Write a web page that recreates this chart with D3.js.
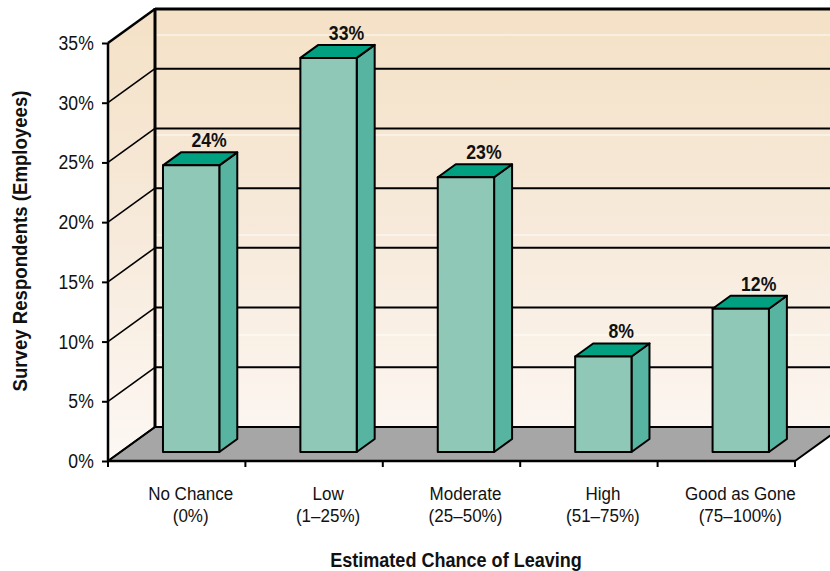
<!DOCTYPE html>
<html>
<head>
<meta charset="utf-8">
<script src="https://cdn.jsdelivr.net/npm/d3@7"></script>
<style>
  html, body { margin: 0; padding: 0; background: #ffffff; }
  svg { display: block; }
  text { font-family: "Liberation Sans", Arial, Helvetica, sans-serif; fill: #111; }
</style>
</head>
<body>
<svg id="chart" width="830" height="571"></svg>
<script>
// Survey: how likely employees think they are to leave
const categories = ["No Chance", "Low", "Moderate", "High", "Good as Gone"];
const ranges = ["(0%)", "(1–25%)", "(25–50%)", "(51–75%)", "(75–100%)"];
const values = [24, 33, 23, 8, 12];
const yTicks = [0, 5, 10, 15, 20, 25, 30, 35];

const W = 830, H = 571;
const svg = d3.select("#chart");

// front plane of the plot and the depth offset of the back wall
const x0 = 108, x1 = 795, yBase = 461, yTop = 43;
const depth = { dx: 47, dy: -34 };
const zBarFront = 9 / 34, zBarBack = 22 / 34;

const x = d3.scaleBand().domain(categories).range([x0, x1]).paddingInner(0).paddingOuter(0);
const y = d3.scaleLinear().domain([0, 35]).range([yBase, yTop]);

// project a front-plane point back to depth z (0 = front, 1 = back wall)
const P = (px, py, z) => [px + z * depth.dx, py + z * depth.dy];
const poly = pts => "M" + pts.map(p => p.join(",")).join("L") + "Z";

// condensed-looking text: a narrowed, slightly tall glyph shape
function label(px, py, str, opts = {}) {
  const sx = opts.sx || 0.93, sy = opts.sy || 1.0, rot = opts.rotate || 0;
  const g = svg.append("g")
    .attr("transform", `translate(${px},${py}) rotate(${rot}) scale(${sx},${sy})`);
  g.append("text").attr("x", 0).attr("y", 0)
    .attr("text-anchor", opts.anchor || "middle")
    .attr("font-size", opts.size || 18)
    .attr("font-weight", opts.bold ? "bold" : "normal")
    .text(str);
  return g;
}

const defs = svg.append("defs");
const grad = defs.append("linearGradient").attr("id", "wallGrad")
  .attr("gradientUnits", "userSpaceOnUse").attr("x1", 0).attr("y1", 8).attr("x2", 0).attr("y2", 461);
grad.append("stop").attr("offset", 0).attr("stop-color", "#f4e1c6");
grad.append("stop").attr("offset", 0.5).attr("stop-color", "#f7eadb");
grad.append("stop").attr("offset", 1).attr("stop-color", "#fdf8f4");

const backX0 = P(x0, 0, 1)[0];
const backTop = P(0, y(35), 1)[1];
const backBot = P(0, y(0), 1)[1];

// back wall
svg.append("rect").attr("x", backX0).attr("y", backTop)
  .attr("width", W + 60 - backX0).attr("height", backBot - backTop)
  .attr("fill", "url(#wallGrad)");

// faint light seams on the back wall
[35, 135, 235, 335].forEach(sy => {
  svg.append("line").attr("x1", backX0).attr("x2", W + 60).attr("y1", sy).attr("y2", sy)
    .attr("stroke", "#ffffff").attr("stroke-width", 1.2).attr("opacity", 0.9);
});

// left side wall
svg.append("path")
  .attr("d", poly([[x0, y(0)], [x0, y(35)], P(x0, y(35), 1), P(x0, y(0), 1)]))
  .attr("fill", "url(#wallGrad)");

// floor
svg.append("path")
  .attr("d", poly([[x0, yBase], [x1, yBase], P(x1, yBase, 1), P(x0, yBase, 1)]))
  .attr("fill", "#a6a6a6").attr("stroke", "#000").attr("stroke-width", 2).attr("stroke-linejoin", "round");

// gridlines on back wall and side wall
yTicks.forEach(t => {
  const yb = y(t) + depth.dy;
  svg.append("line").attr("x1", backX0).attr("x2", W + 60).attr("y1", yb).attr("y2", yb)
    .attr("stroke", "#000").attr("stroke-width", t === 35 ? 3 : 2);
  const a = [x0, y(t)], b = P(x0, y(t), 1);
  svg.append("line").attr("x1", a[0]).attr("y1", a[1]).attr("x2", b[0]).attr("y2", b[1])
    .attr("stroke", "#000").attr("stroke-width", t === 35 ? 2.5 : 1.6);
});

// back wall left edge
svg.append("line").attr("x1", backX0).attr("x2", backX0).attr("y1", backTop - 1).attr("y2", backBot)
  .attr("stroke", "#000").attr("stroke-width", 3);

// front vertical axis with ticks
svg.append("line").attr("x1", x0).attr("x2", x0).attr("y1", y(35)).attr("y2", yBase + 1)
  .attr("stroke", "#000").attr("stroke-width", 2.5);
const yAxis = d3.axisLeft(y).tickValues(yTicks).tickFormat(d => d + "%").tickSize(6).tickPadding(9);
const gy = svg.append("g").attr("transform", `translate(${x0},0)`).call(yAxis);
gy.select(".domain").remove();
gy.selectAll(".tick line").attr("stroke", "#000").attr("stroke-width", 2);
gy.selectAll(".tick text").attr("font-size", 18.5).attr("fill", "#111")
  .attr("transform", "scale(0.95,1.1)")
  .style("font-family", '"Liberation Sans", Arial, sans-serif');

// category ticks under the front floor edge
const bounds = categories.map(c => x(c)).concat([x1]);
bounds.forEach(bx => {
  svg.append("line").attr("x1", bx).attr("x2", bx).attr("y1", yBase).attr("y2", yBase + 6)
    .attr("stroke", "#000").attr("stroke-width", 2);
});
svg.append("line").attr("x1", x0).attr("x2", x1).attr("y1", yBase).attr("y2", yBase)
  .attr("stroke", "#000").attr("stroke-width", 2.5);

// bars
const barW = x.bandwidth() * 0.41;
const bars = svg.append("g");
categories.forEach((c, i) => {
  const v = values[i];
  const bl = x(c) + (x.bandwidth() - barW) / 2 + 2;
  const br = bl + barW;
  const top = y(v);
  const fbl = P(bl, yBase, zBarFront), fbr = P(br, yBase, zBarFront);
  const ftl = P(bl, top, zBarFront), ftr = P(br, top, zBarFront);
  const bbr = P(br, yBase, zBarBack), btl = P(bl, top, zBarBack), btr = P(br, top, zBarBack);
  const g = bars.append("g").attr("stroke", "#000").attr("stroke-width", 2).attr("stroke-linejoin", "round");
  g.append("path").attr("d", poly([fbr, ftr, btr, bbr])).attr("fill", "#56b4a0");
  g.append("path").attr("d", poly([ftl, ftr, btr, btl])).attr("fill", "#00a080");
  g.append("path").attr("d", poly([fbl, ftl, ftr, fbr])).attr("fill", "#90c8b8");

  label((btl[0] + btr[0]) / 2, btl[1] - 5, v + "%", { bold: true, size: 19, sx: 0.93, sy: 1.08 });

  const cx = x(c) + x.bandwidth() / 2 + 14;
  label(cx, 500, c, { size: 18.5, sx: 0.92, sy: 1.0 });
  label(cx, 522, ranges[i], { size: 18.5, sx: 0.92, sy: 1.0 });
});

// axis titles
label(456, 567, "Estimated Chance of Leaving", { bold: true, size: 19, sx: 0.95, sy: 1.05 });
label(27, 241, "Survey Respondents (Employees)", { bold: true, size: 19, sx: 0.98, sy: 1.05, rotate: -90 });
</script>
</body>
</html>
